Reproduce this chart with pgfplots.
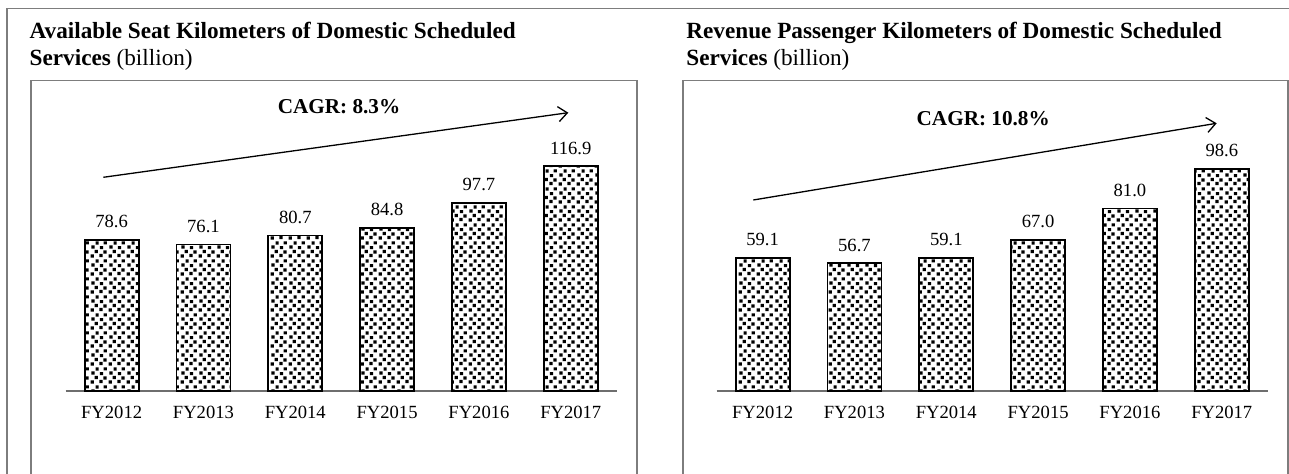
\documentclass[border=0pt]{standalone}
\usepackage{fontspec}
\setmainfont{Liberation Serif}
\usepackage{pgfplots}
\usepackage{pgfplotstable}
\pgfplotsset{compat=1.18}
\usetikzlibrary{arrows.meta,patterns}

% speckled fill of the bars
\pgfdeclarepatternformonly{confetti}{\pgfqpoint{0pt}{0pt}}{\pgfqpoint{9pt}{9pt}}{\pgfqpoint{9pt}{9pt}}{%
  \pgfpathrectangle{\pgfqpoint{0.3pt}{0.2pt}}{\pgfqpoint{1.7pt}{1.7pt}}
  \pgfpathrectangle{\pgfqpoint{4.9pt}{0.5pt}}{\pgfqpoint{1.7pt}{1.7pt}}
  \pgfpathrectangle{\pgfqpoint{2.5pt}{2.6pt}}{\pgfqpoint{1.7pt}{1.7pt}}
  \pgfpathrectangle{\pgfqpoint{7.0pt}{2.3pt}}{\pgfqpoint{1.7pt}{1.7pt}}
  \pgfpathrectangle{\pgfqpoint{0.7pt}{4.9pt}}{\pgfqpoint{1.7pt}{1.7pt}}
  \pgfpathrectangle{\pgfqpoint{5.2pt}{4.6pt}}{\pgfqpoint{1.7pt}{1.7pt}}
  \pgfpathrectangle{\pgfqpoint{2.9pt}{7.0pt}}{\pgfqpoint{1.7pt}{1.7pt}}
  \pgfpathrectangle{\pgfqpoint{7.2pt}{7.1pt}}{\pgfqpoint{1.7pt}{1.7pt}}
  \pgfusepath{fill}}

\definecolor{framegray}{RGB}{125,125,125}
\definecolor{axisgray}{RGB}{110,110,110}

\pgfplotstableread{
x y
0 78.6
1 76.1
2 80.7
3 84.8
4 97.7
5 116.9
}\asktable

\pgfplotstableread{
x y
0 59.1
1 56.7
2 59.1
3 67.0
4 81.0
5 98.6
}\rpktable

\pgfplotsset{
  panel/.style={
    scale only axis,
    width=275.5pt,
    anchor=south west,
    xmin=-0.5, xmax=5.5, ymin=0,
    axis x line=bottom, axis y line=none,
    x axis line style={-, draw=axisgray, line width=1pt},
    xtick={0,...,5},
    xticklabels={FY2012,FY2013,FY2014,FY2015,FY2016,FY2017},
    major tick length=0pt,
    xticklabel style={anchor=base, yshift=-13.8pt, font=\fontsize{9.3}{11}\selectfont},
    ytick=\empty,
    ybar, bar width=27pt,
    clip=false,
    nodes near coords={\pgfmathprintnumber[fixed,fixed zerofill,precision=1,assume math mode=true]{\pgfplotspointmeta}},
    every node near coord/.append style={anchor=base, yshift=6pt, font=\fontsize{9.3}{11}\selectfont},
  },
  bars/.style={draw=black, line width=0.9pt, pattern=confetti, pattern color=black},
}

\begin{document}
\begin{tikzpicture}
\path[use as bounding box] (0,0) rectangle (644.5pt,-237pt);

% page frame and panel boxes
\draw[framegray, line width=0.8pt] (644.5pt,-4.25pt) -- (3.5pt,-4.25pt) -- (3.5pt,-237pt);
\draw[framegray, line width=0.8pt] (15.5pt,-237pt) -- (15.5pt,-40.25pt) -- (318.35pt,-40.25pt) -- (318.35pt,-237pt);
\draw[framegray, line width=0.8pt] (341.35pt,-237pt) -- (341.35pt,-40.25pt) -- (643.9pt,-40.25pt) -- (643.9pt,-237pt);

% titles
\node[anchor=base west, inner sep=0, font=\fontsize{11.6}{13}\selectfont\bfseries] at (14.65pt,-19.5pt) {Available Seat Kilometers of Domestic Scheduled};
\node[anchor=base west, inner sep=0, font=\fontsize{11.6}{13}\selectfont] at (14.65pt,-32.8pt) {\textbf{Services} (billion)};
\node[anchor=base west, inner sep=0, font=\fontsize{11.6}{13}\selectfont\bfseries] at (343pt,-19.5pt) {Revenue Passenger Kilometers of Domestic Scheduled};
\node[anchor=base west, inner sep=0, font=\fontsize{11.6}{13}\selectfont] at (343pt,-32.8pt) {\textbf{Services} (billion)};

% left: ASK
\begin{axis}[panel, at={(32.85pt,-195.35pt)}, ymax=150, height=144.15pt]
\addplot[bars] table[x=x, y=y] {\asktable};
\end{axis}

% right: RPK
\begin{axis}[panel, at={(358.35pt,-195.35pt)}, ymax=130, height=146.25pt]
\addplot[bars] table[x=x, y=y] {\rpktable};
\end{axis}

% CAGR arrows
\draw[line width=0.65pt, -{Straight Barb[length=4.5pt,width=7.5pt]}] (51.65pt,-88.65pt) -- (284.15pt,-56.35pt);
\draw[line width=0.65pt, -{Straight Barb[length=4.5pt,width=7.5pt]}] (376.65pt,-100pt) -- (608.35pt,-61.65pt);
\node[anchor=base, inner sep=0, font=\fontsize{10.6}{12}\selectfont\bfseries] at (169.5pt,-56.65pt) {CAGR: 8.3\%};
\node[anchor=base, inner sep=0, font=\fontsize{10.6}{12}\selectfont\bfseries] at (491.6pt,-63pt) {CAGR: 10.8\%};
\end{tikzpicture}
\end{document}
